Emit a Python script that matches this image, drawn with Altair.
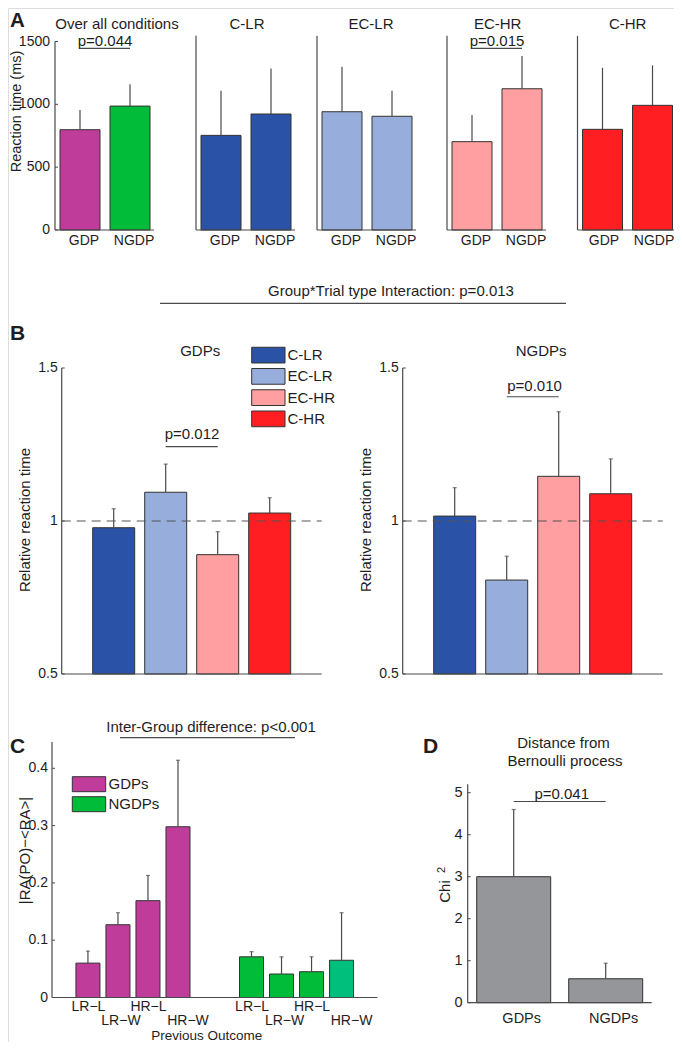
import altair as alt
import pandas as pd

# ---------------- data ----------------
# Panel A: reaction time (ms)
A_conditions = ["Over all conditions", "C-LR", "EC-LR", "EC-HR", "C-HR"]
A_groups = ["GDP", "NGDP"]
A_mean_GDP = [798, 753, 941, 703, 801]
A_mean_NGDP = [986, 923, 905, 1124, 992]
A_sem_GDP = [157, 355, 358, 212, 490]
A_sem_NGDP = [173, 363, 203, 260, 318]
A_yticks = [0, 500, 1000, 1500]
A_sig = {"Over all conditions": "p=0.044", "EC-HR": "p=0.015"}
A_sig_level = 1445

# Panel B: relative reaction time
B_groups = ["GDPs", "NGDPs"]
B_conditions = ["C-LR", "EC-LR", "EC-HR", "C-HR"]
B_mean_GDPs = [0.978, 1.094, 0.890, 1.026]
B_sem_GDPs = [0.062, 0.092, 0.075, 0.050]
B_mean_NGDPs = [1.016, 0.807, 1.146, 1.089]
B_sem_NGDPs = [0.093, 0.078, 0.211, 0.114]
B_yticks = [0.5, 1, 1.5]
B_sig_text = ["p=0.012", "p=0.010"]
B_sig_level = [1.243, 1.406]
B_reference = 1.0
B_interaction = "Group*Trial type Interaction: p=0.013"

# Panel C
C_groups = ["GDPs", "NGDPs"]
C_outcomes = ["LR\u2212L", "LR\u2212W", "HR\u2212L", "HR\u2212W"]
C_mean_GDPs = [0.060, 0.127, 0.169, 0.298]
C_sem_GDPs = [0.021, 0.021, 0.044, 0.116]
C_mean_NGDPs = [0.071, 0.041, 0.045, 0.065]
C_sem_NGDPs = [0.009, 0.030, 0.026, 0.083]
C_yticks = [0, 0.1, 0.2, 0.3, 0.4]
C_note = "Inter-Group difference: p<0.001"

# Panel D
D_groups = ["GDPs", "NGDPs"]
D_mean = [3.0, 0.57]
D_sem = [1.6, 0.37]
D_yticks = [0, 1, 2, 3, 4, 5]
D_sig_text = "p=0.041"
D_sig_level = 4.79

# ---------------- style ----------------
W, H = 666, 1034
M = 8
FONT = "Liberation Sans"
INK = "#1e1e1e"
LINE = "#4a4a4a"
EDGE = "#333333"
COL_GDP = "#BF3C9B"
COL_NGDP = "#00BC39"
COL_TEAL = "#00BE7C"
COL_GRAY = "#959699"
B_colors = ["#2A52A7", "#97AEDC", "#FF9FA1", "#FF1E22"]
A_colors = [[COL_GDP, COL_NGDP]] + [[c, c] for c in B_colors]


def P(v):
    return v - M


def one(t):
    return pd.DataFrame({"t": [t]})


def label(text, x, y, size=15, weight="normal", align="center", baseline="middle", angle=0):
    return alt.Chart(one(text)).mark_text(
        font=FONT, fontSize=size, fontWeight=weight, align=align,
        baseline=baseline, angle=angle, color=INK,
    ).encode(text="t:N", x=alt.value(P(x)), y=alt.value(P(y)))


def hline(x0, x1, y, width=1.2):
    return alt.Chart(one("")).mark_rule(color=LINE, strokeWidth=width).encode(
        x=alt.value(P(x0)), x2=alt.value(P(x1)), y=alt.value(P(y)))


def frame(ys, ymin, ymax, ax, xend, ticks=None, size=14, pad=5):
    """Axis lines (and optional tick labels) drawn through the panel's y scale."""
    out = [
        alt.Chart(one("")).mark_rule(color=LINE, strokeWidth=1.2).encode(
            x=alt.value(P(ax)),
            y=alt.YDatum(ymin, type="quantitative", scale=ys, axis=None),
            y2=alt.Y2Datum(ymax)),
        alt.Chart(one("")).mark_rule(color=LINE, strokeWidth=1.2).encode(
            x=alt.value(P(ax)), x2=alt.value(P(xend)),
            y=alt.YDatum(ymin, type="quantitative", scale=ys, axis=None)),
    ]
    if ticks is not None:
        tdf = pd.DataFrame({"v": ticks})
        out.append(alt.Chart(tdf).mark_text(
            align="right", baseline="middle", font=FONT, fontSize=size, color=INK).encode(
            y=alt.Y("v:Q", scale=ys, axis=None), x=alt.value(P(ax - pad)),
            text=alt.Text("v:Q", format="~g")))
        out.append(alt.Chart(tdf).mark_rule(color=LINE, strokeWidth=1).encode(
            y=alt.Y("v:Q", scale=ys, axis=None), x=alt.value(P(ax)), x2=alt.value(P(ax + 3))))
    return out


def bar_layers(df, xs, ys, colors, base=None, cap=0):
    b = alt.Chart(df)
    enc = dict(
        x=alt.X("cat:N", scale=xs, axis=None),
        y=alt.Y("mean:Q", scale=ys, axis=None),
        color=alt.Color("cat:N", scale=alt.Scale(domain=list(df["cat"]), range=colors), legend=None),
    )
    if base is not None:
        enc["y2"] = alt.datum(base)
    bars = b.mark_bar(stroke=EDGE, strokeWidth=1).encode(**enc)
    eb = b.transform_calculate(upper="datum.mean + datum.sem")
    err = eb.mark_rule(color=LINE, strokeWidth=1.2).encode(
        x=alt.X("cat:N", scale=xs, axis=None),
        y=alt.Y("mean:Q", scale=ys, axis=None),
        y2=alt.Y2("upper:Q"),
    )
    layers = [bars, err]
    if cap:
        layers.append(eb.mark_tick(color=LINE, thickness=1.2, size=cap, orient="horizontal").encode(
            x=alt.X("cat:N", scale=xs, axis=None),
            y=alt.Y("upper:Q", scale=ys, axis=None)))
    return layers


def cat_labels(df, xs, y, size=14, dx=0):
    return alt.Chart(df).mark_text(
        baseline="middle", font=FONT, fontSize=size, color=INK, dx=dx).encode(
        x=alt.X("cat:N", scale=xs, axis=None), y=alt.value(P(y)), text="cat:N")


def sig_line(xs, ys, a, b, yval):
    return alt.Chart(one("")).mark_rule(color=LINE, strokeWidth=1.2).encode(
        x=alt.XDatum(a, type="nominal", scale=xs, axis=None),
        x2=alt.X2Datum(b),
        y=alt.YDatum(yval, type="quantitative", scale=ys, axis=None))


panels = []
annotations = []

# ---------------- Panel A ----------------
A_axis_x = [55, 196, 317, 447, 577.5]
A_top_val = [1500, 1545, 1545, 1545, 1545]
A_px_per = 188.5 / 1500
A_title_x = [117, 247, 371, 497.7, 627.7]
A_label_dx = [4, 4, 4, 4, 1.5]
for i, cond in enumerate(A_conditions):
    ax = A_axis_x[i]
    df = pd.DataFrame({"cat": A_groups, "mean": [A_mean_GDP[i], A_mean_NGDP[i]],
                       "sem": [A_sem_GDP[i], A_sem_NGDP[i]]})
    xs = alt.Scale(domain=A_groups, range=[P(ax), P(ax + 100)], paddingInner=0.2, paddingOuter=0.1)
    ys = alt.Scale(domain=[0, A_top_val[i]], range=[P(230), P(230 - A_top_val[i] * A_px_per)], nice=False)
    layers = bar_layers(df, xs, ys, A_colors[i])
    layers += frame(ys, 0, A_top_val[i], ax, ax + 99, A_yticks if i == 0 else None, size=14, pad=5)
    layers.append(cat_labels(df, xs, 240.8, size=14, dx=A_label_dx[i]))
    if cond in A_sig:
        layers.append(sig_line(xs, ys, A_groups[0], A_groups[1], A_sig_level))
        annotations.append(label(A_sig[cond], ax + 50, 40.5, size=15))
    panels.append(alt.layer(*layers))
    annotations.append(label(cond, A_title_x[i], 23.5, size=15))

annotations.append(label("A", 10, 27, size=20.5, weight="bold", align="left", baseline="alphabetic"))
annotations.append(label("Reaction time (ms)", 16.5, 111.5, size=14.5, angle=270))

# ---------------- Panel B ----------------
annotations.append(label(B_interaction, 391, 291.4, size=15))
annotations.append(hline(160, 566, 303.3))
annotations.append(label("B", 10, 340, size=21, weight="bold", align="left", baseline="alphabetic"))
B_axis_x = [61.7, 402.7]
B_means = [B_mean_GDPs, B_mean_NGDPs]
B_sems = [B_sem_GDPs, B_sem_NGDPs]
B_sig_text_xy = [(192, 434), (534.5, 385.7)]
for j, grp in enumerate(B_groups):
    ax = B_axis_x[j]
    df = pd.DataFrame({"cat": B_conditions, "mean": B_means[j], "sem": B_sems[j]})
    xs = alt.Scale(domain=B_conditions, range=[P(ax), P(ax + 260)], paddingInner=10 / 52, paddingOuter=31 / 52)
    ys = alt.Scale(domain=[0.5, 1.5], range=[P(674), P(368)], nice=False, zero=False)
    layers = bar_layers(df, xs, ys, B_colors, base=0.5, cap=4)
    layers += frame(ys, 0.5, 1.5, ax, ax + 260, B_yticks, size=14, pad=4)
    layers.append(alt.Chart(one("")).mark_rule(color="#555555", strokeWidth=1.1, strokeDash=[9, 6]).encode(
        y=alt.YDatum(B_reference, type="quantitative", scale=ys, axis=None),
        x=alt.value(P(ax)), x2=alt.value(P(ax + 260))))
    layers.append(sig_line(xs, ys, B_conditions[1], B_conditions[2], B_sig_level[j]))
    panels.append(alt.layer(*layers))
    tx, ty = B_sig_text_xy[j]
    annotations.append(label(B_sig_text[j], tx, ty, size=15))
    annotations.append(label(grp, ax + 138.5, 351.2, size=15))
    annotations.append(label("Relative reaction time", ax - 36.7, 520, size=15, angle=270))

# legend B
dfLB = pd.DataFrame({"cat": B_conditions})
ysLB = alt.Scale(domain=B_conditions, range=[P(344.5), P(429.5)], paddingInner=0.26, paddingOuter=0.13)
panels.append(alt.layer(
    alt.Chart(dfLB).mark_rect(stroke=EDGE, strokeWidth=1).encode(
        y=alt.Y("cat:N", scale=ysLB, axis=None), x=alt.value(P(251.7)), x2=alt.value(P(285)),
        color=alt.Color("cat:N", scale=alt.Scale(domain=B_conditions, range=B_colors), legend=None)),
    alt.Chart(dfLB).mark_text(align="left", baseline="middle", fontSize=15, font=FONT, color=INK).encode(
        y=alt.Y("cat:N", scale=ysLB, axis=None), x=alt.value(P(287.5)), text="cat:N"),
))

# ---------------- Panel C ----------------
annotations.append(label(C_note, 211, 726.5, size=15))
annotations.append(hline(120, 295, 737.7))
annotations.append(label("C", 10, 753, size=21, weight="bold", align="left", baseline="alphabetic"))
annotations.append(label("|RA(PO)\u2212<RA>|", 25, 850.5, size=15, angle=270))
annotations.append(label("Previous Outcome", 206.7, 1035.6, size=13.5))

dfC = pd.DataFrame({
    "group": [g for g in C_groups for _ in C_outcomes],
    "outcome": C_outcomes * 2,
    "mean": C_mean_GDPs + C_mean_NGDPs,
    "sem": C_sem_GDPs + C_sem_NGDPs,
})
C_keys = ["GDPs", "NGDPs", "NGDPs HR\u2212W"]
C_colors = [COL_GDP, COL_NGDP, COL_TEAL]
C_top = 0.446
xsC = alt.Scale(domain=C_groups, range=[P(52), P(377.5)], paddingInner=0.266, paddingOuter=0.128)
xoC = alt.Scale(domain=C_outcomes, paddingInner=0.2, paddingOuter=0.1)
ysC = alt.Scale(domain=[0, C_top], range=[P(997.5), P(997.5 - C_top * 573)], nice=False)
baseC = alt.Chart(dfC).transform_calculate(
    key="datum.group == 'NGDPs' && datum.outcome == 'HR\u2212W' ? 'NGDPs HR\u2212W' : datum.group",
    upper="datum.mean + datum.sem",
)
cx = alt.X("group:N", scale=xsC, axis=None)
cxo = alt.XOffset("outcome:N", scale=xoC)
C_layers = [
    baseC.mark_bar(stroke=EDGE, strokeWidth=1).encode(
        x=cx, xOffset=cxo,
        y=alt.Y("mean:Q", scale=ysC, axis=None),
        color=alt.Color("key:N", scale=alt.Scale(domain=C_keys, range=C_colors), legend=None)),
    baseC.mark_rule(color=LINE, strokeWidth=1.2).encode(
        x=cx, xOffset=cxo, y=alt.Y("mean:Q", scale=ysC, axis=None), y2="upper:Q"),
    baseC.mark_tick(color=LINE, thickness=1.2, size=4, orient="horizontal").encode(
        x=cx, xOffset=cxo, y=alt.Y("upper:Q", scale=ysC, axis=None)),
]
C_layers += frame(ysC, 0, C_top, 52, 377.5, C_yticks, size=14, pad=4)
C_label_rows = [([C_outcomes[0], C_outcomes[2]], 9.2, 0.5), ([C_outcomes[1]], 23.2, 3), ([C_outcomes[3]], 23.2, 10)]
for names, dy, dx in C_label_rows:
    C_layers.append(baseC.transform_filter(alt.FieldOneOfPredicate(field="outcome", oneOf=names)).mark_text(
        fontSize=14, font=FONT, color=INK, baseline="middle", dy=dy, dx=dx).encode(
        x=cx, xOffset=cxo, y=alt.YDatum(0, type="quantitative", scale=ysC, axis=None), text="outcome:N"))
panels.append(alt.layer(*C_layers))

# legend C
dfLC = pd.DataFrame({"cat": C_groups})
ysLC = alt.Scale(domain=C_groups, range=[P(774.2), P(814.2)], paddingInner=0.25, paddingOuter=0.125)
panels.append(alt.layer(
    alt.Chart(dfLC).mark_rect(stroke=EDGE, strokeWidth=1).encode(
        y=alt.Y("cat:N", scale=ysLC, axis=None), x=alt.value(P(72.3)), x2=alt.value(P(105.7)),
        color=alt.Color("cat:N", scale=alt.Scale(domain=C_groups, range=[COL_GDP, COL_NGDP]), legend=None)),
    alt.Chart(dfLC).mark_text(align="left", baseline="middle", fontSize=15, font=FONT, color=INK).encode(
        y=alt.Y("cat:N", scale=ysLC, axis=None), x=alt.value(P(108.5)), text="cat:N"),
))

# ---------------- Panel D ----------------
annotations.append(label("D", 423, 753, size=21, weight="bold", align="left", baseline="alphabetic"))
annotations.append(label("Distance from", 563.5, 743, size=15))
annotations.append(label("Bernoulli process", 565, 761, size=15))
annotations.append(label(D_sig_text, 561.7, 794, size=15))
annotations.append(label("Chi", 445.2, 891.5, size=15, angle=270))
annotations.append(label("2", 442, 870, size=11, angle=270))
dfD = pd.DataFrame({"cat": D_groups, "mean": D_mean, "sem": D_sem})
D_top = 5.2
xsD = alt.Scale(domain=D_groups, range=[P(467.7), P(651.7)], paddingInner=18 / 92, paddingOuter=9 / 92)
ysD = alt.Scale(domain=[0, D_top], range=[P(1002.7), P(1002.7 - D_top * 42)], nice=False)
D_layers = bar_layers(dfD, xsD, ysD, [COL_GRAY, COL_GRAY], cap=4)
D_layers += frame(ysD, 0, D_top, 467.7, 651.7, D_yticks, size=14.5, pad=5)
D_layers.append(cat_labels(dfD, xsD, 1019.4, size=14.5, dx=8))
D_layers.append(sig_line(xsD, ysD, D_groups[0], D_groups[1], D_sig_level))
panels.append(alt.layer(*D_layers))

chart = alt.layer(*panels, *annotations).resolve_scale(
    x="independent", y="independent", color="independent", xOffset="independent"
).properties(
    width=W, height=H, autosize=alt.AutoSizeParams(type="none"), padding=0
).configure_view(stroke=None).configure(font=FONT)

chart.save("out.html", embed_options={"renderer": "svg", "actions": False})
